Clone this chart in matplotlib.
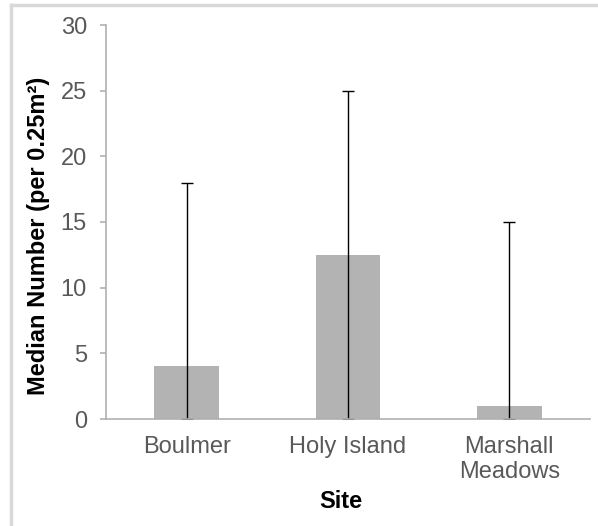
import matplotlib
matplotlib.use("Agg")
import matplotlib.pyplot as plt
from matplotlib.lines import Line2D

sites = ["Boulmer", "Holy Island", "Marshall\nMeadows"]
medians = [4, 12.5, 1]
upper = [18, 25, 15]
lower = [0, 0, 0]
yticks = [0, 5, 10, 15, 20, 25, 30]

plt.rcParams['font.family'] = ['Liberation Sans', 'DejaVu Sans']

W, H = 598, 526
fig = plt.figure(figsize=(W / 100, H / 100), dpi=100)
ax = fig.add_axes([106 / W, 1 - 419 / H, (590 - 106) / W, (419 - 25) / H])

x = list(range(len(sites)))
ax.bar(x, medians, width=0.4, color='#b3b3b3', zorder=2)
yerr = [[m - l for m, l in zip(medians, lower)], [u - m for u, m in zip(upper, medians)]]
ax.errorbar(x, medians, yerr=yerr, fmt='none', ecolor='black', elinewidth=1,
            capsize=4.3, capthick=1, zorder=3)

ax.set_xlim(-0.5, 2.5)
ax.set_ylim(0, 30)
ax.set_yticks(yticks)
ax.set_xticks(x)
ax.set_xticklabels(sites, linespacing=1.2)

for s in ['top', 'right']:
    ax.spines[s].set_visible(False)
for s in ['left', 'bottom']:
    ax.spines[s].set_color('#b0b0b0')
    ax.spines[s].set_linewidth(1.2)
    ax.spines[s].set_zorder(5)

ax.tick_params(axis='y', colors='#b0b0b0', labelcolor='#595959', labelsize=17,
               length=4.3, width=1.2, pad=9.4)
ax.tick_params(axis='x', length=0, labelcolor='#595959', labelsize=17, pad=12)

fig.text(39 / W, 1 - 236 / H, "Median Number (per 0.25m²)", fontsize=17,
         fontweight='bold', rotation=90, ha='center', va='center')
fig.text(341 / W, 1 - 501 / H, "Site", fontsize=17, fontweight='bold',
         ha='center', va='center')

# figure border (top and left)
fig.add_artist(Line2D([11 / W, 11 / W], [0, 1 - 5 / H], transform=fig.transFigure,
                      color='#d9d9d9', linewidth=2.5))
fig.add_artist(Line2D([11 / W, 1], [1 - 5 / H, 1 - 5 / H], transform=fig.transFigure,
                      color='#d9d9d9', linewidth=2.5))

fig.savefig("out.png", dpi=100)
